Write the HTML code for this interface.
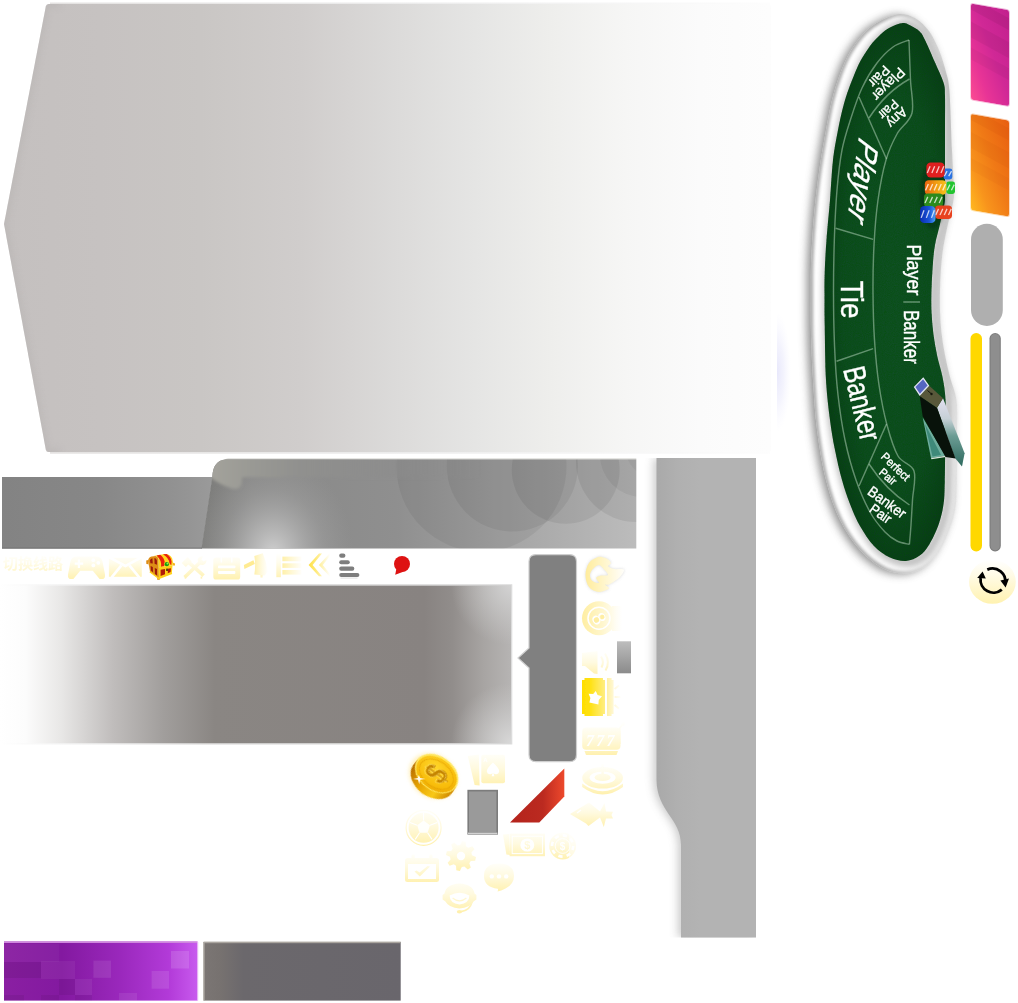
<!DOCTYPE html>
<html lang="zh"><head><meta charset="utf-8"><title>sprite</title>
<style>
html,body{margin:0;padding:0;background:#fff;}
body{width:1018px;height:1003px;overflow:hidden;font-family:"Liberation Sans","Noto Sans CJK SC",sans-serif;}
svg{display:block;position:absolute;left:0;top:0;}
text{font-family:"Liberation Sans","Noto Sans CJK SC",sans-serif;}
</style></head><body>
<svg width="1018" height="1003" viewBox="0 0 1018 1003">
<defs>
<linearGradient id="gHex" x1="0" y1="0" x2="1" y2="0">
<stop offset="0" stop-color="#c4c0bf"/><stop offset="0.125" stop-color="#c6c2c1"/><stop offset="0.256" stop-color="#c9c6c4"/><stop offset="0.386" stop-color="#d0cdcc"/>
<stop offset="0.516" stop-color="#dcdbda"/><stop offset="0.614" stop-color="#e5e5e4"/><stop offset="0.712" stop-color="#eeeeec"/><stop offset="0.81" stop-color="#f6f6f5"/>
<stop offset="0.907" stop-color="#fbfbfb"/><stop offset="1" stop-color="#fdfdfd"/></linearGradient>
<linearGradient id="gHexEdge" x1="0" y1="0" x2="1" y2="0">
<stop offset="0" stop-color="#e4e2e1"/><stop offset="0.5" stop-color="#ececec"/><stop offset="1" stop-color="#fdfdfd"/></linearGradient>
<clipPath id="cpHex"><path d="M48.5,4 H768 Q771,4 771,7 V449 Q771,452 768,452 H48.5 Q46.3,452 45.8,449.5 L4,224 L45.8,6.5 Q46.3,4 48.5,4 Z"/></clipPath>
<filter id="blurHex" x="-10%" y="-10%" width="120%" height="120%"><feGaussianBlur stdDeviation="3"/></filter>
<radialGradient id="gLav" cx="777" cy="372" r="1" gradientUnits="userSpaceOnUse" gradientTransform="translate(777,372) scale(14,60) translate(-777,-372)"><stop offset="0" stop-color="#e6e6fb" stop-opacity="0.95"/><stop offset="0.5" stop-color="#ececfc" stop-opacity="0.6"/><stop offset="1" stop-color="#f4f4ff" stop-opacity="0"/></radialGradient>
<linearGradient id="gBar" x1="0" y1="0" x2="1" y2="0">
<stop offset="0" stop-color="#838383"/><stop offset="0.45" stop-color="#878787"/><stop offset="0.8" stop-color="#919191"/><stop offset="1" stop-color="#9a9a9a"/></linearGradient>
<linearGradient id="gPan" x1="200" y1="0" x2="637" y2="0" gradientUnits="userSpaceOnUse">
<stop offset="0" stop-color="#7c7c7a"/><stop offset="0.12" stop-color="#888887"/><stop offset="0.45" stop-color="#8f8f8f"/><stop offset="0.72" stop-color="#a6a6a6"/><stop offset="1" stop-color="#bcbcbc"/></linearGradient>
<radialGradient id="gPanHi" cx="273" cy="554" r="100" gradientUnits="userSpaceOnUse" gradientTransform="translate(273,554) scale(0.8,1) translate(-273,-554)">
<stop offset="0" stop-color="#d0d0d0" stop-opacity="1"/><stop offset="0.3" stop-color="#bcbcbc" stop-opacity="0.75"/><stop offset="0.65" stop-color="#a8a8a8" stop-opacity="0.35"/><stop offset="1" stop-color="#a0a0a0" stop-opacity="0"/></radialGradient>
<linearGradient id="gPanTop" x1="212" y1="0" x2="480" y2="0" gradientUnits="userSpaceOnUse">
<stop offset="0" stop-color="#a3a29b"/><stop offset="0.15" stop-color="#999994"/><stop offset="0.33" stop-color="#90908e"/><stop offset="0.7" stop-color="#8c8c8c" stop-opacity="0.4"/><stop offset="1" stop-color="#8c8c8c" stop-opacity="0"/></linearGradient>
<clipPath id="cpPan"><path d="M226,459.5 H636.3 V548.5 H201.5 L212.3,477 Q213,460 226,459.5 Z"/></clipPath>
<filter id="blur2"><feGaussianBlur stdDeviation="1.4"/></filter>
<filter id="blur4"><feGaussianBlur stdDeviation="4"/></filter>
<filter id="blur5" x="-30%" y="-5%" width="160%" height="110%"><feGaussianBlur stdDeviation="4.5"/></filter>
<clipPath id="cpV"><rect x="630" y="458" width="126" height="479.5"/></clipPath>
<linearGradient id="gV" x1="656" y1="0" x2="700" y2="0" gradientUnits="userSpaceOnUse">
<stop offset="0" stop-color="#a9a9a9"/><stop offset="0.5" stop-color="#b0b0b0"/><stop offset="1" stop-color="#b3b3b3"/></linearGradient>
<linearGradient id="gMid" x1="0" y1="0" x2="511" y2="0" gradientUnits="userSpaceOnUse">
<stop offset="0" stop-color="#ffffff"/><stop offset="0.05" stop-color="#fcfcfc"/><stop offset="0.12" stop-color="#e8e7e6"/><stop offset="0.22" stop-color="#c0bdbc"/>
<stop offset="0.32" stop-color="#a19e9c"/><stop offset="0.42" stop-color="#8a8683"/><stop offset="0.83" stop-color="#888381"/>
<stop offset="0.885" stop-color="#918d8b"/><stop offset="0.945" stop-color="#a7a4a2"/><stop offset="1" stop-color="#b6b4b3"/></linearGradient>
<linearGradient id="gMidEdge" x1="0" y1="0" x2="511" y2="0" gradientUnits="userSpaceOnUse">
<stop offset="0" stop-color="#fff"/><stop offset="0.15" stop-color="#efefef"/><stop offset="0.4" stop-color="#d4d3d2"/><stop offset="1" stop-color="#dcdcdc"/></linearGradient>
<radialGradient id="gMidC1" cx="511" cy="585" r="60" gradientUnits="userSpaceOnUse"><stop offset="0" stop-color="#d8d8d8" stop-opacity="0.85"/><stop offset="1" stop-color="#d0d0d0" stop-opacity="0"/></radialGradient>
<radialGradient id="gMidC2" cx="511" cy="743" r="60" gradientUnits="userSpaceOnUse"><stop offset="0" stop-color="#dcdcdc" stop-opacity="0.9"/><stop offset="1" stop-color="#d0d0d0" stop-opacity="0"/></radialGradient>
<linearGradient id="gSm" x1="0" y1="0" x2="0" y2="1"><stop offset="0" stop-color="#bdbdbd"/><stop offset="1" stop-color="#8b8b8b"/></linearGradient>
<linearGradient id="gRed" x1="510" y1="0" x2="565" y2="0" gradientUnits="userSpaceOnUse"><stop offset="0" stop-color="#b4231c"/><stop offset="0.6" stop-color="#bb2a20"/><stop offset="0.85" stop-color="#dc3e28"/><stop offset="1" stop-color="#ee4a2c"/></linearGradient>
<linearGradient id="gPur" x1="0" y1="0" x2="1" y2="0">
<stop offset="0" stop-color="#8a1fa2"/><stop offset="0.3" stop-color="#8319a0"/><stop offset="0.6" stop-color="#9a28bc"/><stop offset="0.85" stop-color="#b23ad8"/><stop offset="1" stop-color="#c85aee"/></linearGradient>
<clipPath id="cpPur"><rect x="4" y="942" width="193.5" height="58.5"/></clipPath>
<linearGradient id="gGry" x1="204" y1="0" x2="401" y2="0" gradientUnits="userSpaceOnUse">
<stop offset="0" stop-color="#7b7674"/><stop offset="0.08" stop-color="#777270"/><stop offset="0.2" stop-color="#6b686c"/><stop offset="1" stop-color="#69666c"/></linearGradient>
<linearGradient id="gPink" x1="1" y1="0" x2="0" y2="1">
<stop offset="0" stop-color="#c2208e"/><stop offset="0.45" stop-color="#d02896"/><stop offset="0.75" stop-color="#e83496"/><stop offset="1" stop-color="#fb4c92"/></linearGradient>
<linearGradient id="gOr" x1="1" y1="0" x2="0" y2="1">
<stop offset="0" stop-color="#e85e10"/><stop offset="0.45" stop-color="#f07a16"/><stop offset="0.75" stop-color="#f8941c"/><stop offset="1" stop-color="#ffb820"/></linearGradient>
<clipPath id="cpCard"><rect x="0" y="0" width="38" height="96" rx="2.5"/></clipPath>
<linearGradient id="gRef" x1="0" y1="0" x2="0" y2="1"><stop offset="0" stop-color="#ffffff"/><stop offset="0.35" stop-color="#fffbe6"/><stop offset="1" stop-color="#fff2b0"/></linearGradient>
<filter id="tblShadow" x="-20%" y="-5%" width="140%" height="110%"><feGaussianBlur stdDeviation="4.5"/></filter>
<filter id="blur1"><feGaussianBlur stdDeviation="0.8"/></filter>
<filter id="blur15"><feGaussianBlur stdDeviation="1.5"/></filter>
<filter id="blur3"><feGaussianBlur stdDeviation="3"/></filter>
<radialGradient id="gFelt" cx="895" cy="292" r="1" gradientUnits="userSpaceOnUse" gradientTransform="translate(895,292) scale(75,280) translate(-895,-292)">
<stop offset="0" stop-color="#105026"/><stop offset="0.7" stop-color="#0e4b23"/><stop offset="1" stop-color="#093a1a"/></radialGradient>
<clipPath id="cpFelt"><path d="M902.8,23.0 C899.5,23.4 893.8,25.4 890.0,27.4 C886.2,29.4 883.3,31.8 880.0,34.9 C876.7,38.0 873.3,41.4 870.0,45.9 C866.7,50.4 862.8,56.5 860.0,61.8 C857.2,67.1 855.2,72.5 853.0,77.8 C850.8,83.1 848.8,88.4 847.0,93.7 C845.2,99.0 843.9,103.7 842.4,109.7 C840.9,115.8 839.6,121.6 838.0,130.0 C836.4,138.4 834.3,148.3 833.0,160.0 C831.7,171.7 831.1,186.7 830.0,200.0 C828.9,213.3 827.4,228.3 826.5,240.0 C825.6,251.7 825.1,261.3 824.8,270.0 C824.5,278.7 824.5,282.8 824.5,292.0 C824.5,301.2 824.5,310.3 824.7,325.0 C825.0,339.7 825.1,364.2 826.0,380.0 C826.9,395.8 828.5,408.3 830.0,420.0 C831.5,431.7 833.0,440.0 835.0,450.0 C837.0,460.0 839.5,471.0 842.0,480.0 C844.5,489.0 847.0,496.3 850.0,504.0 C853.0,511.7 856.0,519.0 860.0,526.0 C864.0,533.0 869.0,540.8 874.0,546.0 C879.0,551.2 884.7,555.0 890.0,557.5 C895.3,560.0 901.0,561.3 906.0,561.0 C911.0,560.7 915.8,558.4 919.7,555.6 C923.6,552.8 926.1,549.7 929.3,544.4 C932.5,539.1 936.5,530.6 938.9,523.7 C941.3,516.8 942.7,510.3 943.7,503.0 C944.7,495.7 944.5,492.2 944.8,480.0 C945.1,467.8 945.2,443.5 945.3,430.0 C945.4,416.5 946.0,407.8 945.5,399.0 C945.0,390.2 943.9,384.3 942.5,377.0 C941.1,369.7 938.5,362.3 937.0,355.0 C935.5,347.7 934.2,340.3 933.3,333.0 C932.4,325.7 931.8,318.2 931.5,311.0 C931.2,303.8 931.3,297.2 931.5,290.0 C931.7,282.8 932.1,275.3 932.6,268.0 C933.1,260.7 933.6,253.3 934.8,246.0 C936.0,238.7 938.4,231.2 940.0,224.0 C941.6,216.8 943.8,208.7 944.6,203.0 C945.4,197.3 944.9,202.2 945.0,190.0 C945.1,177.8 945.0,145.7 945.0,130.0 C945.0,114.3 945.2,103.9 945.0,96.0 C944.8,88.1 945.2,88.1 943.5,82.5 C941.8,76.9 938.0,69.4 935.0,62.5 C932.0,55.6 928.0,46.2 925.5,41.0 C923.0,35.8 922.3,34.0 919.7,31.4 C917.1,28.8 912.8,26.6 910.0,25.2 C907.2,23.8 906.1,22.6 902.8,23.0Z"/></clipPath>
<clipPath id="cpRim"><path d="M898.8,14.0 C893.0,14.5 885.6,18.0 880.0,21.0 C874.4,24.0 870.0,26.8 865.0,32.0 C860.0,37.2 854.2,45.0 850.0,52.0 C845.8,59.0 843.0,66.0 840.0,74.0 C837.0,82.0 834.3,90.7 832.0,100.0 C829.7,109.3 828.0,119.2 826.0,130.0 C824.0,140.8 821.8,153.3 820.0,165.0 C818.2,176.7 816.8,188.3 815.5,200.0 C814.2,211.7 813.2,224.2 812.5,235.0 C811.8,245.8 811.3,255.5 811.0,265.0 C810.7,274.5 810.8,280.3 810.8,292.0 C810.8,303.7 810.6,320.3 811.0,335.0 C811.4,349.7 812.0,364.2 813.0,380.0 C814.0,395.8 814.8,413.3 817.0,430.0 C819.2,446.7 822.2,465.0 826.0,480.0 C829.8,495.0 834.3,508.3 840.0,520.0 C845.7,531.7 852.7,541.8 860.0,550.0 C867.3,558.2 876.3,565.1 884.0,569.0 C891.7,572.9 899.2,573.8 906.0,573.5 C912.8,573.2 919.3,570.9 925.0,567.0 C930.7,563.1 935.7,557.0 940.0,550.0 C944.3,543.0 948.3,532.8 951.0,525.0 C953.7,517.2 955.0,512.2 956.0,503.0 C957.0,493.8 956.8,482.2 957.0,470.0 C957.2,457.8 957.1,441.7 957.0,430.0 C956.9,418.3 957.7,408.8 956.5,400.0 C955.3,391.2 951.9,384.5 950.0,377.0 C948.1,369.5 946.4,362.3 945.0,355.0 C943.6,347.7 942.3,340.3 941.5,333.0 C940.7,325.7 940.2,318.2 940.0,311.0 C939.8,303.8 939.8,297.2 940.0,290.0 C940.2,282.8 940.4,275.3 941.0,268.0 C941.6,260.7 942.3,253.3 943.5,246.0 C944.7,238.7 946.4,231.2 948.0,224.0 C949.6,216.8 952.0,208.7 953.0,203.0 C954.0,197.3 954.2,198.8 954.0,190.0 C953.8,181.2 952.8,166.3 952.0,150.0 C951.2,133.7 950.5,105.0 949.5,92.0 C948.5,79.0 947.8,79.0 946.0,72.0 C944.2,65.0 941.8,56.8 939.0,50.0 C936.2,43.2 933.0,36.3 929.0,31.0 C925.0,25.7 920.0,20.8 915.0,18.0 C910.0,15.2 904.6,13.5 898.8,14.0Z"/></clipPath>
<linearGradient id="gRimFade" x1="880" y1="0" x2="935" y2="0" gradientUnits="userSpaceOnUse"><stop offset="0" stop-color="#fff" stop-opacity="1"/><stop offset="1" stop-color="#fff" stop-opacity="0.3"/></linearGradient><mask id="mRim"><rect x="780" y="0" width="200" height="600" fill="url(#gRimFade)"/></mask>
<filter id="feltNoise" x="0" y="0" width="100%" height="100%"><feTurbulence type="fractalNoise" baseFrequency="0.9" numOctaves="2" seed="3" result="n"/><feColorMatrix type="matrix" values="0 0 0 0 0  0 0 0 0 0.08  0 0 0 0 0  0.9 0.9 0.9 0 -0.95"/></filter>
<linearGradient id="gOy" x1="0" y1="0" x2="1" y2="0"><stop offset="0" stop-color="#e8620e"/><stop offset="0.5" stop-color="#f09a12"/><stop offset="1" stop-color="#f6c21c"/></linearGradient>
<linearGradient id="gBl" x1="0" y1="0" x2="1" y2="0"><stop offset="0" stop-color="#0a2cb0"/><stop offset="0.6" stop-color="#1a54d8"/><stop offset="1" stop-color="#4aa0f4"/></linearGradient>
<linearGradient id="gGlass" x1="0" y1="0" x2="0" y2="1"><stop offset="0" stop-color="#e2e0f0"/><stop offset="0.3" stop-color="#c6d0d6"/><stop offset="0.55" stop-color="#6c9c94"/><stop offset="1" stop-color="#2e6a5e"/></linearGradient>
<linearGradient id="pv" x1="0" y1="0" x2="0" y2="1"><stop offset="0" stop-color="#fffef6"/><stop offset="0.45" stop-color="#fff8d4"/><stop offset="1" stop-color="#ffefa6"/></linearGradient>
<linearGradient id="ph" x1="0" y1="0" x2="1" y2="0"><stop offset="0" stop-color="#ffec9c"/><stop offset="0.45" stop-color="#fff5c8"/><stop offset="1" stop-color="#fffefa"/></linearGradient>
<linearGradient id="pvU" x1="0" y1="553" x2="0" y2="580" gradientUnits="userSpaceOnUse"><stop offset="0" stop-color="#ffffff"/><stop offset="0.35" stop-color="#fffcec"/><stop offset="1" stop-color="#fff1ae"/></linearGradient>
<filter id="b05"><feGaussianBlur stdDeviation="0.45"/></filter>
<linearGradient id="pMeg" x1="254" y1="0" x2="268" y2="0" gradientUnits="userSpaceOnUse"><stop offset="0" stop-color="#fff0aa"/><stop offset="0.5" stop-color="#fff9dc"/><stop offset="1" stop-color="#ffffff"/></linearGradient>
<linearGradient id="pList" x1="282" y1="0" x2="302" y2="0" gradientUnits="userSpaceOnUse"><stop offset="0" stop-color="#fff0a8"/><stop offset="0.5" stop-color="#fff8d6"/><stop offset="1" stop-color="#fffefc"/></linearGradient>
<linearGradient id="pChev" x1="308" y1="0" x2="330" y2="0" gradientUnits="userSpaceOnUse"><stop offset="0" stop-color="#ffe042"/><stop offset="0.35" stop-color="#ffe978"/><stop offset="0.75" stop-color="#fff7cc"/><stop offset="1" stop-color="#ffffff"/></linearGradient>
<filter id="flSh" x="-20%" y="-20%" width="140%" height="140%"><feGaussianBlur stdDeviation="1.6"/></filter>
<linearGradient id="ph8" x1="582" y1="0" x2="622" y2="0" gradientUnits="userSpaceOnUse"><stop offset="0" stop-color="#ffeea2"/><stop offset="0.5" stop-color="#fff6cc"/><stop offset="0.85" stop-color="#fffdf4"/><stop offset="1" stop-color="#ffffff"/></linearGradient>
<linearGradient id="pvM" x1="0" y1="650" x2="0" y2="675" gradientUnits="userSpaceOnUse"><stop offset="0" stop-color="#fffffb"/><stop offset="0.5" stop-color="#fffae0"/><stop offset="1" stop-color="#fff0b0"/></linearGradient>
<linearGradient id="gStar" x1="582" y1="0" x2="606" y2="0" gradientUnits="userSpaceOnUse"><stop offset="0" stop-color="#ffde00"/><stop offset="0.3" stop-color="#ffe10e"/><stop offset="1" stop-color="#ffee8a"/></linearGradient>
<linearGradient id="gStar2" x1="607" y1="0" x2="622" y2="0" gradientUnits="userSpaceOnUse"><stop offset="0" stop-color="#fff0a6"/><stop offset="0.5" stop-color="#fff9dc"/><stop offset="1" stop-color="#ffffff"/></linearGradient>
<linearGradient id="pv7" x1="0" y1="724" x2="0" y2="756" gradientUnits="userSpaceOnUse"><stop offset="0" stop-color="#fffffc"/><stop offset="0.45" stop-color="#fffae0"/><stop offset="1" stop-color="#fff0ac"/></linearGradient>
<linearGradient id="pvR" x1="0" y1="765" x2="0" y2="795" gradientUnits="userSpaceOnUse"><stop offset="0" stop-color="#fffffc"/><stop offset="0.45" stop-color="#fffae0"/><stop offset="1" stop-color="#fff0ac"/></linearGradient>
<linearGradient id="pvF" x1="0" y1="800" x2="0" y2="828" gradientUnits="userSpaceOnUse"><stop offset="0" stop-color="#fffffc"/><stop offset="0.45" stop-color="#fffae0"/><stop offset="1" stop-color="#fff0ac"/></linearGradient>
<linearGradient id="pvC" x1="0" y1="752" x2="0" y2="787" gradientUnits="userSpaceOnUse"><stop offset="0" stop-color="#fffffc"/><stop offset="0.45" stop-color="#fffae0"/><stop offset="1" stop-color="#fff0ac"/></linearGradient>
<linearGradient id="pvS" x1="0" y1="808" x2="0" y2="846" gradientUnits="userSpaceOnUse"><stop offset="0" stop-color="#fffffc"/><stop offset="0.45" stop-color="#fffae0"/><stop offset="1" stop-color="#fff0ac"/></linearGradient>
<linearGradient id="pvG" x1="0" y1="840" x2="0" y2="872" gradientUnits="userSpaceOnUse"><stop offset="0" stop-color="#fffffc"/><stop offset="0.45" stop-color="#fffae0"/><stop offset="1" stop-color="#fff0ac"/></linearGradient>
<linearGradient id="pvK" x1="0" y1="853" x2="0" y2="884" gradientUnits="userSpaceOnUse"><stop offset="0" stop-color="#fffffc"/><stop offset="0.45" stop-color="#fffae0"/><stop offset="1" stop-color="#fff0ac"/></linearGradient>
<linearGradient id="pvB" x1="0" y1="830" x2="0" y2="860" gradientUnits="userSpaceOnUse"><stop offset="0" stop-color="#fffffc"/><stop offset="0.45" stop-color="#fffae0"/><stop offset="1" stop-color="#fff0ac"/></linearGradient>
<linearGradient id="pvP" x1="0" y1="832" x2="0" y2="861" gradientUnits="userSpaceOnUse"><stop offset="0" stop-color="#fffffc"/><stop offset="0.45" stop-color="#fffae0"/><stop offset="1" stop-color="#fff0ac"/></linearGradient>
<linearGradient id="pvT" x1="0" y1="862" x2="0" y2="893" gradientUnits="userSpaceOnUse"><stop offset="0" stop-color="#fffffc"/><stop offset="0.45" stop-color="#fffae0"/><stop offset="1" stop-color="#fff0ac"/></linearGradient>
<linearGradient id="pvH" x1="0" y1="878" x2="0" y2="912" gradientUnits="userSpaceOnUse"><stop offset="0" stop-color="#fffffc"/><stop offset="0.45" stop-color="#fffae0"/><stop offset="1" stop-color="#fff0ac"/></linearGradient>
<linearGradient id="gCoinEdge" x1="0" y1="0" x2="1" y2="0"><stop offset="0" stop-color="#b86e00"/><stop offset="0.35" stop-color="#e8a400"/><stop offset="0.7" stop-color="#f8c818"/><stop offset="1" stop-color="#d08a00"/></linearGradient>
<radialGradient id="gCoinFace" cx="0.4" cy="0.35" r="0.75"><stop offset="0" stop-color="#ffd62a"/><stop offset="0.7" stop-color="#f8bc0a"/><stop offset="1" stop-color="#eaa400"/></radialGradient>
<filter id="coinGlow" x="-30%" y="-30%" width="160%" height="160%"><feGaussianBlur stdDeviation="2.2"/></filter>
</defs>
<path d="M50,2.5 H770 V453.8 H50 Z" fill="url(#gHexEdge)"/>
<path d="M48.5,4 H768 Q771,4 771,7 V449 Q771,452 768,452 H48.5 Q46.3,452 45.8,449.5 L4,224 L45.8,6.5 Q46.3,4 48.5,4 Z" fill="url(#gHex)"/>
<g clip-path="url(#cpHex)"><path d="M60,4 H46 L4,224 L46,452 H60" fill="none" stroke="#b4b0af" stroke-width="5" opacity="0.55" filter="url(#blurHex)"/></g>
<rect x="777" y="310" width="16" height="124" fill="url(#gLav)"/>
<path d="M2,477 H212.8 L202,548.5 H2 Z" fill="url(#gBar)"/>
<path d="M228,458.3 H636.3 V460 H222 Z" fill="#dcdcd8"/>
<g clip-path="url(#cpPan)">
<rect x="200" y="459" width="437" height="90" fill="url(#gPan)"/>
<rect x="200" y="459" width="437" height="90" fill="url(#gPanHi)"/>
<circle cx="481.5" cy="466.7" r="85" fill="#000" fill-opacity="0.055"/>
<circle cx="512.3" cy="466" r="65.6" fill="#000" fill-opacity="0.06"/>
<circle cx="565.7" cy="469.8" r="54" fill="#000" fill-opacity="0.065"/>
<circle cx="636" cy="462" r="60" fill="#000" fill-opacity="0.065"/>
<circle cx="642" cy="455" r="42" fill="#000" fill-opacity="0.05"/>
<circle cx="652" cy="450" r="26" fill="#000" fill-opacity="0.04"/>
<path d="M200,455 H480 V477.3 H242 Q243,491 232,488.5 Q220,485 210,477 Z" fill="url(#gPanTop)" filter="url(#blur2)"/>
</g>
<g clip-path="url(#cpV)"><path d="M656.5,458 H756 V937.5 H681 V845 C681,818 657,812 656.5,780 Z" fill="#8a8a8a" opacity="0.45" filter="url(#blur5)" transform="translate(-3,0)"/></g>
<path d="M656.5,458 H756 V937.5 H681 V845 C681,818 657,812 656.5,780 Z" fill="url(#gV)"/>
<rect x="0" y="584.2" width="512.3" height="160.3" fill="url(#gMidEdge)"/>
<rect x="0" y="585.7" width="511" height="157.4" fill="url(#gMid)"/>
<rect x="440" y="585.7" width="71" height="157.4" fill="url(#gMidC1)"/>
<rect x="440" y="585.7" width="71" height="157.4" fill="url(#gMidC2)"/>
<path d="M536,554.6 H569.5 Q576.5,554.6 576.5,561.6 V754.7 Q576.5,761.7 569.5,761.7 H536 Q529,761.7 529,754.7 V668 L518,658 L529,648 V561.6 Q529,554.6 536,554.6 Z" fill="#808080" stroke="#cfcfcf" stroke-width="1.2"/>
<rect x="617" y="641.3" width="14" height="32" fill="url(#gSm)"/>
<rect x="467.4" y="789.8" width="30.6" height="44.8" fill="#7c7c7c"/>
<rect x="469" y="791.5" width="27.4" height="40.8" fill="#9a9a9a"/>
<rect x="468" y="832.6" width="29.4" height="1.4" fill="#d2d2d2"/>
<path d="M510,822.4 L539.3,822.4 L564.3,796.4 L564.3,768.6 Z" fill="url(#gRed)"/>
<rect x="4" y="941.6" width="193.5" height="59" fill="url(#gPur)"/>
<g clip-path="url(#cpPur)">
<rect x="4" y="944" width="55" height="18" fill="#fff" fill-opacity="0.03"/>
<rect x="4" y="962" width="37" height="16" fill="#000" fill-opacity="0.07"/>
<rect x="41" y="961" width="34" height="18" fill="#fff" fill-opacity="0.05"/>
<rect x="59" y="979" width="16" height="16" fill="#000" fill-opacity="0.06"/>
<rect x="75" y="979" width="17" height="16" fill="#fff" fill-opacity="0.06"/>
<rect x="93.4" y="960.6" width="17.6" height="17.2" fill="#fff" fill-opacity="0.09"/>
<rect x="151.6" y="971" width="17.4" height="17.7" fill="#fff" fill-opacity="0.1"/>
<rect x="171" y="951" width="18" height="17.5" fill="#fff" fill-opacity="0.13"/>
<rect x="119" y="993" width="18" height="8" fill="#fff" fill-opacity="0.08"/>
<rect x="4" y="995" width="20" height="6" fill="#000" fill-opacity="0.06"/>
<rect x="41" y="995" width="18" height="6" fill="#000" fill-opacity="0.05"/>
<rect x="75" y="995" width="17" height="6" fill="#000" fill-opacity="0.05"/>
</g>
<rect x="4" y="941.4" width="193.5" height="1.6" fill="#cf86de"/>
<rect x="197" y="942" width="1.2" height="58.5" fill="#e6b0f4"/>
<rect x="203.6" y="942" width="197.1" height="58.6" fill="url(#gGry)"/>
<rect x="203.6" y="941.6" width="197.1" height="1.6" fill="#aaa59f"/>
<rect x="203.3" y="942" width="1.3" height="58.6" fill="#b0aba4"/>
<g transform="translate(971,3.6) skewY(9.8)">
<rect x="-0.8" y="-0.8" width="39.6" height="97.6" rx="3" fill="url(#gPink)" opacity="0.35"/>
<g clip-path="url(#cpCard)"><rect x="0" y="0" width="38" height="96" fill="url(#gPink)"/>
<path d="M0,-6 L38,8 L38,20 L0,6 Z" fill="#000" fill-opacity="0.06"/>
<path d="M0,18 L38,32 L38,48 L0,34 Z" fill="#000" fill-opacity="0.05"/>
<path d="M0,44 L38,58 L38,70 L0,56 Z" fill="#000" fill-opacity="0.04"/>
</g></g>
<g transform="translate(971,114) skewY(9.8)">
<rect x="-0.8" y="-0.8" width="39.6" height="97.6" rx="3" fill="url(#gOr)" opacity="0.35"/>
<g clip-path="url(#cpCard)"><rect x="0" y="0" width="38" height="96" fill="url(#gOr)"/>
<path d="M0,-6 L38,8 L38,20 L0,6 Z" fill="#a02000" fill-opacity="0.06"/>
<path d="M0,18 L38,32 L38,48 L0,34 Z" fill="#a02000" fill-opacity="0.05"/>
<path d="M0,44 L38,58 L38,70 L0,56 Z" fill="#a02000" fill-opacity="0.04"/>
</g></g>
<rect x="971" y="223.8" width="31.8" height="102.1" rx="15.9" fill="#afafaf"/>
<rect x="970.5" y="333" width="11.5" height="218.4" rx="5.7" fill="#ffd800"/>
<rect x="989.5" y="333" width="11.3" height="218.4" rx="5.6" fill="#7c7c7c"/>
<rect x="990.6" y="334" width="9.1" height="216.4" rx="4.5" fill="#8e8e8e"/>
<ellipse cx="992.4" cy="581.8" rx="23.4" ry="22" fill="url(#gRef)"/>
<g fill="none" stroke="#000" stroke-width="2.8">
<path d="M987.3,569.6 A13,13 0 0 1 1005.2,584"/>
<path d="M1001.8,589.6 A13,13 0 0 1 980.6,578"/>
</g>
<path d="M1000.4,580.4 L1009,578.6 L1005.6,587.4 Z" fill="#000"/>
<path d="M977.2,578 L982.6,571.6 L985.8,578.6 Z" fill="#000"/>
<path d="M898.8,14.0 C893.0,14.5 885.6,18.0 880.0,21.0 C874.4,24.0 870.0,26.8 865.0,32.0 C860.0,37.2 854.2,45.0 850.0,52.0 C845.8,59.0 843.0,66.0 840.0,74.0 C837.0,82.0 834.3,90.7 832.0,100.0 C829.7,109.3 828.0,119.2 826.0,130.0 C824.0,140.8 821.8,153.3 820.0,165.0 C818.2,176.7 816.8,188.3 815.5,200.0 C814.2,211.7 813.2,224.2 812.5,235.0 C811.8,245.8 811.3,255.5 811.0,265.0 C810.7,274.5 810.8,280.3 810.8,292.0 C810.8,303.7 810.6,320.3 811.0,335.0 C811.4,349.7 812.0,364.2 813.0,380.0 C814.0,395.8 814.8,413.3 817.0,430.0 C819.2,446.7 822.2,465.0 826.0,480.0 C829.8,495.0 834.3,508.3 840.0,520.0 C845.7,531.7 852.7,541.8 860.0,550.0 C867.3,558.2 876.3,565.1 884.0,569.0 C891.7,572.9 899.2,573.8 906.0,573.5 C912.8,573.2 919.3,570.9 925.0,567.0 C930.7,563.1 935.7,557.0 940.0,550.0 C944.3,543.0 948.3,532.8 951.0,525.0 C953.7,517.2 955.0,512.2 956.0,503.0 C957.0,493.8 956.8,482.2 957.0,470.0 C957.2,457.8 957.1,441.7 957.0,430.0 C956.9,418.3 957.7,408.8 956.5,400.0 C955.3,391.2 951.9,384.5 950.0,377.0 C948.1,369.5 946.4,362.3 945.0,355.0 C943.6,347.7 942.3,340.3 941.5,333.0 C940.7,325.7 940.2,318.2 940.0,311.0 C939.8,303.8 939.8,297.2 940.0,290.0 C940.2,282.8 940.4,275.3 941.0,268.0 C941.6,260.7 942.3,253.3 943.5,246.0 C944.7,238.7 946.4,231.2 948.0,224.0 C949.6,216.8 952.0,208.7 953.0,203.0 C954.0,197.3 954.2,198.8 954.0,190.0 C953.8,181.2 952.8,166.3 952.0,150.0 C951.2,133.7 950.5,105.0 949.5,92.0 C948.5,79.0 947.8,79.0 946.0,72.0 C944.2,65.0 941.8,56.8 939.0,50.0 C936.2,43.2 933.0,36.3 929.0,31.0 C925.0,25.7 920.0,20.8 915.0,18.0 C910.0,15.2 904.6,13.5 898.8,14.0Z" fill="#6e6e6e" opacity="0.75" filter="url(#tblShadow)" transform="translate(-4,1)"/>
<path d="M898.8,14.0 C893.0,14.5 885.6,18.0 880.0,21.0 C874.4,24.0 870.0,26.8 865.0,32.0 C860.0,37.2 854.2,45.0 850.0,52.0 C845.8,59.0 843.0,66.0 840.0,74.0 C837.0,82.0 834.3,90.7 832.0,100.0 C829.7,109.3 828.0,119.2 826.0,130.0 C824.0,140.8 821.8,153.3 820.0,165.0 C818.2,176.7 816.8,188.3 815.5,200.0 C814.2,211.7 813.2,224.2 812.5,235.0 C811.8,245.8 811.3,255.5 811.0,265.0 C810.7,274.5 810.8,280.3 810.8,292.0 C810.8,303.7 810.6,320.3 811.0,335.0 C811.4,349.7 812.0,364.2 813.0,380.0 C814.0,395.8 814.8,413.3 817.0,430.0 C819.2,446.7 822.2,465.0 826.0,480.0 C829.8,495.0 834.3,508.3 840.0,520.0 C845.7,531.7 852.7,541.8 860.0,550.0 C867.3,558.2 876.3,565.1 884.0,569.0 C891.7,572.9 899.2,573.8 906.0,573.5 C912.8,573.2 919.3,570.9 925.0,567.0 C930.7,563.1 935.7,557.0 940.0,550.0 C944.3,543.0 948.3,532.8 951.0,525.0 C953.7,517.2 955.0,512.2 956.0,503.0 C957.0,493.8 956.8,482.2 957.0,470.0 C957.2,457.8 957.1,441.7 957.0,430.0 C956.9,418.3 957.7,408.8 956.5,400.0 C955.3,391.2 951.9,384.5 950.0,377.0 C948.1,369.5 946.4,362.3 945.0,355.0 C943.6,347.7 942.3,340.3 941.5,333.0 C940.7,325.7 940.2,318.2 940.0,311.0 C939.8,303.8 939.8,297.2 940.0,290.0 C940.2,282.8 940.4,275.3 941.0,268.0 C941.6,260.7 942.3,253.3 943.5,246.0 C944.7,238.7 946.4,231.2 948.0,224.0 C949.6,216.8 952.0,208.7 953.0,203.0 C954.0,197.3 954.2,198.8 954.0,190.0 C953.8,181.2 952.8,166.3 952.0,150.0 C951.2,133.7 950.5,105.0 949.5,92.0 C948.5,79.0 947.8,79.0 946.0,72.0 C944.2,65.0 941.8,56.8 939.0,50.0 C936.2,43.2 933.0,36.3 929.0,31.0 C925.0,25.7 920.0,20.8 915.0,18.0 C910.0,15.2 904.6,13.5 898.8,14.0Z" fill="#ffffff"/>
<g clip-path="url(#cpRim)"><g mask="url(#mRim)"><path d="M898.8,14.0 C893.0,14.5 885.6,18.0 880.0,21.0 C874.4,24.0 870.0,26.8 865.0,32.0 C860.0,37.2 854.2,45.0 850.0,52.0 C845.8,59.0 843.0,66.0 840.0,74.0 C837.0,82.0 834.3,90.7 832.0,100.0 C829.7,109.3 828.0,119.2 826.0,130.0 C824.0,140.8 821.8,153.3 820.0,165.0 C818.2,176.7 816.8,188.3 815.5,200.0 C814.2,211.7 813.2,224.2 812.5,235.0 C811.8,245.8 811.3,255.5 811.0,265.0 C810.7,274.5 810.8,280.3 810.8,292.0 C810.8,303.7 810.6,320.3 811.0,335.0 C811.4,349.7 812.0,364.2 813.0,380.0 C814.0,395.8 814.8,413.3 817.0,430.0 C819.2,446.7 822.2,465.0 826.0,480.0 C829.8,495.0 834.3,508.3 840.0,520.0 C845.7,531.7 852.7,541.8 860.0,550.0 C867.3,558.2 876.3,565.1 884.0,569.0 C891.7,572.9 899.2,573.8 906.0,573.5 C912.8,573.2 919.3,570.9 925.0,567.0 C930.7,563.1 935.7,557.0 940.0,550.0 C944.3,543.0 948.3,532.8 951.0,525.0 C953.7,517.2 955.0,512.2 956.0,503.0 C957.0,493.8 956.8,482.2 957.0,470.0 C957.2,457.8 957.1,441.7 957.0,430.0 C956.9,418.3 957.7,408.8 956.5,400.0 C955.3,391.2 951.9,384.5 950.0,377.0 C948.1,369.5 946.4,362.3 945.0,355.0 C943.6,347.7 942.3,340.3 941.5,333.0 C940.7,325.7 940.2,318.2 940.0,311.0 C939.8,303.8 939.8,297.2 940.0,290.0 C940.2,282.8 940.4,275.3 941.0,268.0 C941.6,260.7 942.3,253.3 943.5,246.0 C944.7,238.7 946.4,231.2 948.0,224.0 C949.6,216.8 952.0,208.7 953.0,203.0 C954.0,197.3 954.2,198.8 954.0,190.0 C953.8,181.2 952.8,166.3 952.0,150.0 C951.2,133.7 950.5,105.0 949.5,92.0 C948.5,79.0 947.8,79.0 946.0,72.0 C944.2,65.0 941.8,56.8 939.0,50.0 C936.2,43.2 933.0,36.3 929.0,31.0 C925.0,25.7 920.0,20.8 915.0,18.0 C910.0,15.2 904.6,13.5 898.8,14.0Z" fill="none" stroke="#8c8c8c" stroke-width="5" opacity="0.7" filter="url(#blur15)"/></g></g>
<g clip-path="url(#cpRim)">
<path d="M902.8,23.0 C899.5,23.4 893.8,25.4 890.0,27.4 C886.2,29.4 883.3,31.8 880.0,34.9 C876.7,38.0 873.3,41.4 870.0,45.9 C866.7,50.4 862.8,56.5 860.0,61.8 C857.2,67.1 855.2,72.5 853.0,77.8 C850.8,83.1 848.8,88.4 847.0,93.7 C845.2,99.0 843.9,103.7 842.4,109.7 C840.9,115.8 839.6,121.6 838.0,130.0 C836.4,138.4 834.3,148.3 833.0,160.0 C831.7,171.7 831.1,186.7 830.0,200.0 C828.9,213.3 827.4,228.3 826.5,240.0 C825.6,251.7 825.1,261.3 824.8,270.0 C824.5,278.7 824.5,282.8 824.5,292.0 C824.5,301.2 824.5,310.3 824.7,325.0 C825.0,339.7 825.1,364.2 826.0,380.0 C826.9,395.8 828.5,408.3 830.0,420.0 C831.5,431.7 833.0,440.0 835.0,450.0 C837.0,460.0 839.5,471.0 842.0,480.0 C844.5,489.0 847.0,496.3 850.0,504.0 C853.0,511.7 856.0,519.0 860.0,526.0 C864.0,533.0 869.0,540.8 874.0,546.0 C879.0,551.2 884.7,555.0 890.0,557.5 C895.3,560.0 901.0,561.3 906.0,561.0 C911.0,560.7 915.8,558.4 919.7,555.6 C923.6,552.8 926.1,549.7 929.3,544.4 C932.5,539.1 936.5,530.6 938.9,523.7 C941.3,516.8 942.7,510.3 943.7,503.0 C944.7,495.7 944.5,492.2 944.8,480.0 C945.1,467.8 945.2,443.5 945.3,430.0 C945.4,416.5 946.0,407.8 945.5,399.0 C945.0,390.2 943.9,384.3 942.5,377.0 C941.1,369.7 938.5,362.3 937.0,355.0 C935.5,347.7 934.2,340.3 933.3,333.0 C932.4,325.7 931.8,318.2 931.5,311.0 C931.2,303.8 931.3,297.2 931.5,290.0 C931.7,282.8 932.1,275.3 932.6,268.0 C933.1,260.7 933.6,253.3 934.8,246.0 C936.0,238.7 938.4,231.2 940.0,224.0 C941.6,216.8 943.8,208.7 944.6,203.0 C945.4,197.3 944.9,202.2 945.0,190.0 C945.1,177.8 945.0,145.7 945.0,130.0 C945.0,114.3 945.2,103.9 945.0,96.0 C944.8,88.1 945.2,88.1 943.5,82.5 C941.8,76.9 938.0,69.4 935.0,62.5 C932.0,55.6 928.0,46.2 925.5,41.0 C923.0,35.8 922.3,34.0 919.7,31.4 C917.1,28.8 912.8,26.6 910.0,25.2 C907.2,23.8 906.1,22.6 902.8,23.0Z" fill="none" stroke="#8e8e8e" stroke-width="10" opacity="0.55" filter="url(#blur3)" transform="translate(3,1)"/>
</g>
<path d="M902.8,23.0 C899.5,23.4 893.8,25.4 890.0,27.4 C886.2,29.4 883.3,31.8 880.0,34.9 C876.7,38.0 873.3,41.4 870.0,45.9 C866.7,50.4 862.8,56.5 860.0,61.8 C857.2,67.1 855.2,72.5 853.0,77.8 C850.8,83.1 848.8,88.4 847.0,93.7 C845.2,99.0 843.9,103.7 842.4,109.7 C840.9,115.8 839.6,121.6 838.0,130.0 C836.4,138.4 834.3,148.3 833.0,160.0 C831.7,171.7 831.1,186.7 830.0,200.0 C828.9,213.3 827.4,228.3 826.5,240.0 C825.6,251.7 825.1,261.3 824.8,270.0 C824.5,278.7 824.5,282.8 824.5,292.0 C824.5,301.2 824.5,310.3 824.7,325.0 C825.0,339.7 825.1,364.2 826.0,380.0 C826.9,395.8 828.5,408.3 830.0,420.0 C831.5,431.7 833.0,440.0 835.0,450.0 C837.0,460.0 839.5,471.0 842.0,480.0 C844.5,489.0 847.0,496.3 850.0,504.0 C853.0,511.7 856.0,519.0 860.0,526.0 C864.0,533.0 869.0,540.8 874.0,546.0 C879.0,551.2 884.7,555.0 890.0,557.5 C895.3,560.0 901.0,561.3 906.0,561.0 C911.0,560.7 915.8,558.4 919.7,555.6 C923.6,552.8 926.1,549.7 929.3,544.4 C932.5,539.1 936.5,530.6 938.9,523.7 C941.3,516.8 942.7,510.3 943.7,503.0 C944.7,495.7 944.5,492.2 944.8,480.0 C945.1,467.8 945.2,443.5 945.3,430.0 C945.4,416.5 946.0,407.8 945.5,399.0 C945.0,390.2 943.9,384.3 942.5,377.0 C941.1,369.7 938.5,362.3 937.0,355.0 C935.5,347.7 934.2,340.3 933.3,333.0 C932.4,325.7 931.8,318.2 931.5,311.0 C931.2,303.8 931.3,297.2 931.5,290.0 C931.7,282.8 932.1,275.3 932.6,268.0 C933.1,260.7 933.6,253.3 934.8,246.0 C936.0,238.7 938.4,231.2 940.0,224.0 C941.6,216.8 943.8,208.7 944.6,203.0 C945.4,197.3 944.9,202.2 945.0,190.0 C945.1,177.8 945.0,145.7 945.0,130.0 C945.0,114.3 945.2,103.9 945.0,96.0 C944.8,88.1 945.2,88.1 943.5,82.5 C941.8,76.9 938.0,69.4 935.0,62.5 C932.0,55.6 928.0,46.2 925.5,41.0 C923.0,35.8 922.3,34.0 919.7,31.4 C917.1,28.8 912.8,26.6 910.0,25.2 C907.2,23.8 906.1,22.6 902.8,23.0Z" fill="url(#gFelt)"/>
<g clip-path="url(#cpFelt)"><rect x="820" y="20" width="130" height="545" filter="url(#feltNoise)" opacity="0.5"/></g>
<g clip-path="url(#cpFelt)" fill="none" stroke="#cfe8d2" stroke-opacity="0.45" stroke-width="1.45">
<path d="M909.0,40.0 C906.3,41.2 898.3,43.2 893.0,47.0 C887.7,50.8 882.2,56.2 877.0,63.0 C871.8,69.8 866.3,78.8 862.0,88.0 C857.7,97.2 854.3,107.7 851.0,118.0 C847.7,128.3 844.3,138.0 842.0,150.0 C839.7,162.0 838.2,175.8 837.0,190.0 C835.8,204.2 835.1,218.0 834.5,235.0 C833.9,252.0 833.5,273.7 833.5,292.0 C833.5,310.3 833.8,327.8 834.5,345.0 C835.2,362.2 836.2,379.2 838.0,395.0 C839.8,410.8 842.0,425.8 845.0,440.0 C848.0,454.2 851.8,468.0 856.0,480.0 C860.2,492.0 865.2,503.3 870.0,512.0 C874.8,520.7 880.5,527.2 885.0,532.0 C889.5,536.8 892.9,538.9 897.0,541.0 C901.1,543.1 907.3,543.8 909.4,544.4"/>
<path d="M909.0,40.0 C909.2,46.7 910.0,67.8 910.5,80.0 C911.0,92.2 914.2,104.0 912.0,113.0 C909.8,122.0 901.3,126.2 897.0,134.0 C892.7,141.8 889.2,149.0 886.0,160.0 C882.8,171.0 880.0,185.8 878.0,200.0 C876.0,214.2 874.8,229.7 874.0,245.0 C873.2,260.3 872.9,276.2 873.0,292.0 C873.1,307.8 873.5,324.5 874.5,340.0 C875.5,355.5 876.9,370.8 879.0,385.0 C881.1,399.2 883.8,413.2 887.0,425.0 C890.2,436.8 893.5,448.3 898.0,456.0 C902.5,463.7 911.6,463.7 914.0,471.0 C916.4,478.3 913.0,491.0 912.5,500.0 C912.0,509.0 911.5,517.6 911.0,525.0 C910.5,532.4 909.7,541.2 909.4,544.4"/>
<path d="M859,97 L886.5,159"/>
<path d="M869,118 Q886,92 909.5,79"/>
<path d="M835.7,228.2 L873.1,239.4"/>
<path d="M836.5,361.3 L873.1,348.6"/>
<path d="M859,486 L886.5,424"/>
<path d="M869,464 Q886,490 909.5,505"/>
<path d="M903.3,302 H920"/>
</g>
<g style="filter:blur(0.3px)" stroke="#fff" stroke-width="0.35">
<text transform="matrix(-0.1317,0.9367,-0.9100,-0.6933,859.20,135.40)" font-size="30" fill="#fff" >Player</text>
<text transform="matrix(0.0000,1.0000,-1.1000,0.0000,841.00,280.70)" font-size="28" fill="#fff" >Tie</text>
<text transform="matrix(0.2192,0.8923,-1.1538,0.2808,842.90,369.30)" font-size="26" fill="#fff" >Banker</text>
<text transform="matrix(0.0000,1.0000,-1.0800,0.0000,906.70,244.60)" font-size="18" fill="#fff" >Player</text>
<text transform="matrix(0.0000,1.0000,-1.3000,0.0000,904.20,310.00)" font-size="17" fill="#fff" >Banker</text>
<text transform="matrix(-0.7172,0.7172,-0.7172,-0.7172,899.30,66.40)" font-size="14" fill="#fff" >Player</text>
<text transform="matrix(-0.6748,0.6988,-0.6988,-0.6748,884.20,64.40)" font-size="14" fill="#fff" >Pair</text>
<text transform="matrix(-0.7314,0.6820,-0.7161,-0.7679,902.00,106.60)" font-size="13" fill="#fff" >Any</text>
<text transform="matrix(-0.7089,0.6610,-0.6941,-0.7443,893.60,98.40)" font-size="13" fill="#fff" >Pair</text>
<text transform="matrix(0.7218,0.6921,-0.7475,0.7795,880.20,457.60)" font-size="11" fill="#fff" >Perfect</text>
<text transform="matrix(0.7382,0.6194,-0.6690,0.7972,878.20,473.60)" font-size="11" fill="#fff" >Pair</text>
<text transform="matrix(0.7917,0.5752,-0.6212,0.8550,866.60,493.60)" font-size="14" fill="#fff" >Banker</text>
<text transform="matrix(0.8192,0.5736,-0.6195,0.8847,868.60,511.00)" font-size="13" fill="#fff" >Pair</text>
</g>
<ellipse cx="933" cy="195" rx="13" ry="34" fill="#04200c" opacity="0.35" filter="url(#blur15)"/>
<g filter="url(#blur1)" style="filter:blur(0.5px)">
<rect x="943.5" y="168.4" width="8.8" height="11.1" rx="2.464" fill="#2a72e2"/>
<path d="M944.3,176.17 L947.1,171.175" stroke="#fff" stroke-opacity="0.75" stroke-width="1.3"/>
<path d="M948.7,176.17 L951.5,171.175" stroke="#fff" stroke-opacity="0.75" stroke-width="1.3"/>
<rect x="926.4" y="162.4" width="18.3" height="15.1" rx="4.228" fill="#df1f1f"/>
<path d="M927.288,172.97 L930.087,166.175" stroke="#fff" stroke-opacity="0.75" stroke-width="1.3"/>
<path d="M931.863,172.97 L934.663,166.175" stroke="#fff" stroke-opacity="0.75" stroke-width="1.3"/>
<path d="M936.438,172.97 L939.237,166.175" stroke="#fff" stroke-opacity="0.75" stroke-width="1.3"/>
<path d="M941.013,172.97 L943.812,166.175" stroke="#fff" stroke-opacity="0.75" stroke-width="1.3"/>
<rect x="946.3" y="181.5" width="8.7" height="12.4" rx="2.436" fill="#22c430"/>
<path d="M947.075,190.18 L949.875,184.6" stroke="#fff" stroke-opacity="0.75" stroke-width="1.3"/>
<path d="M951.425,190.18 L954.225,184.6" stroke="#fff" stroke-opacity="0.75" stroke-width="1.3"/>
<rect x="924.8" y="180.3" width="21.5" height="14.4" rx="4.032" fill="url(#gOy)"/>
<path d="M925.55,190.38 L928.35,183.9" stroke="#fff" stroke-opacity="0.75" stroke-width="1.3"/>
<path d="M929.85,190.38 L932.65,183.9" stroke="#fff" stroke-opacity="0.75" stroke-width="1.3"/>
<path d="M934.15,190.38 L936.95,183.9" stroke="#fff" stroke-opacity="0.75" stroke-width="1.3"/>
<path d="M938.45,190.38 L941.25,183.9" stroke="#fff" stroke-opacity="0.75" stroke-width="1.3"/>
<path d="M942.75,190.38 L945.55,183.9" stroke="#fff" stroke-opacity="0.75" stroke-width="1.3"/>
<rect x="924" y="193.5" width="19" height="13.5" rx="3.78" fill="#2c8a1e"/>
<path d="M924.975,202.95 L927.775,196.875" stroke="#fff" stroke-opacity="0.75" stroke-width="1.3"/>
<path d="M929.725,202.95 L932.525,196.875" stroke="#fff" stroke-opacity="0.75" stroke-width="1.3"/>
<path d="M934.475,202.95 L937.275,196.875" stroke="#fff" stroke-opacity="0.75" stroke-width="1.3"/>
<path d="M939.225,202.95 L942.025,196.875" stroke="#fff" stroke-opacity="0.75" stroke-width="1.3"/>
<rect x="935" y="205.5" width="17" height="13.5" rx="3.78" fill="#e8421e"/>
<path d="M935.725,214.95 L938.525,208.875" stroke="#fff" stroke-opacity="0.75" stroke-width="1.3"/>
<path d="M939.975,214.95 L942.775,208.875" stroke="#fff" stroke-opacity="0.75" stroke-width="1.3"/>
<path d="M944.225,214.95 L947.025,208.875" stroke="#fff" stroke-opacity="0.75" stroke-width="1.3"/>
<path d="M948.475,214.95 L951.275,208.875" stroke="#fff" stroke-opacity="0.75" stroke-width="1.3"/>
<rect x="920" y="205.9" width="15.5" height="17.1" rx="4.34" fill="url(#gBl)"/>
<path d="M921.183,217.87 L923.983,210.175" stroke="#fff" stroke-opacity="0.75" stroke-width="1.3"/>
<path d="M926.35,217.87 L929.15,210.175" stroke="#fff" stroke-opacity="0.75" stroke-width="1.3"/>
<path d="M931.517,217.87 L934.317,210.175" stroke="#fff" stroke-opacity="0.75" stroke-width="1.3"/>
</g>
<g style="filter:blur(0.4px)">
<path d="M937,407.8 L943,398.3 L964.6,453.3 L962,466.5 L955,458 Z" fill="url(#gGlass)"/>
<path d="M922.7,417.4 L945.5,455.7 L931,458 Z" fill="#6fae9e"/>
<path d="M925,424 L941,455 L932.5,456.5 Z" fill="#3f8a7a"/>
<path d="M931,458 L945.5,455.7 L946,457 L931.5,459.3 Z" fill="#d8e4dc"/>
<path d="M919.7,395.9 L937,407.8 L955.5,458.5 L945.5,456.9 L922.7,416.2 Z" fill="#08120a"/>
<path d="M919.7,395.9 L929.3,385.7 L943,398.3 L937,407.8 Z" fill="#58583a"/>
<path d="M913.8,386.9 L923.3,377.3 L929.3,385.7 L919.7,395.9 Z" fill="#e4e6f4"/>
<path d="M915.4,387 L923.1,379.2 L927.6,385.6 L919.9,393.8 Z" fill="#5566c2"/>
<circle cx="931.5" cy="394" r="1.2" fill="#15150c"/><path d="M927.5,390.5 L931,393.5" stroke="#15150c" stroke-width="1"/>
</g>
<text x="3" y="569" font-size="15" font-weight="bold" fill="url(#pvU)" style="font-family:'Liberation Sans','Noto Sans CJK SC',sans-serif" filter="url(#b05)">切换线路</text>
<g filter="url(#b05)">
<path d="M76,556.6 Q71.6,556.8 70.4,562 L68,574.5 Q67.6,578.8 70.4,579 H73.4 L80.2,570.8 H92.8 L99.6,579 H102.6 Q105.4,578.8 105,574.5 L102.6,562 Q101.4,556.8 97,556.6 Z" fill="url(#pvU)"/>
<path d="M77.8,559.4 h2.3 v3.1 h3.1 v2.3 h-3.1 v3.1 h-2.3 v-3.1 h-3.1 v-2.3 h3.1 Z" fill="#fff"/>
<circle cx="93.3" cy="560.2" r="1.9" fill="#fff"/><circle cx="98.3" cy="562.8" r="1.9" fill="#fff"/><circle cx="93.3" cy="565.4" r="1.9" fill="#fff"/>
<path d="M108.9,557.7 H141.8 V576.7 H108.9 Z" fill="url(#pvU)"/>
<path d="M108.9,557.2 L125.4,566 L141.8,557.2" fill="none" stroke="#fff" stroke-width="2.6"/>
<path d="M111.6,577.4 L121.4,565.4 M139.2,577.4 L129.4,565.4" fill="none" stroke="#fff" stroke-width="2.6"/>
<g stroke="url(#pvU)" stroke-width="3.6" stroke-linecap="butt" fill="none"><path d="M188,561.6 L203.6,575.6"/><path d="M201.5,561 L184.6,577.2"/></g>
<path d="M181.7,563 L187.6,557 L191.6,561.2 L185.8,567 Z" fill="url(#pvU)"/>
<path d="M197.6,559.4 Q199,556 203,556.4 L201.4,559.4 L203.6,561.6 L206.4,560 Q206.6,564 203,565 Q200,565.4 198.6,563 Z" fill="url(#pvU)"/>
<rect x="184.6" y="576.6" width="1.6" height="2" fill="url(#pvU)"/><rect x="200.6" y="576.6" width="1.6" height="2" fill="url(#pvU)"/>
<path d="M216,557.6 H237.6 Q240.2,557.6 240.2,560.2 V576.4 Q240.2,579.6 237.4,579.6 H216.2 Q213.3,579.6 213.3,576.4 V560.2 Q213.3,557.6 216,557.6 Z" fill="url(#pvU)"/>
<rect x="218" y="565.5" width="17.4" height="2.8" rx="0.8" fill="#fff"/><rect x="218" y="571.1" width="17.4" height="2.8" rx="0.8" fill="#fff"/>
<rect x="220.6" y="556.2" width="1.5" height="6.4" rx="0.7" fill="#fff"/><rect x="231" y="556.2" width="1.5" height="6.4" rx="0.7" fill="#fff"/>
<path d="M243.9,565 L253.4,560.3 L254.8,564 L244.4,569 Z" fill="#ffeb92"/>
<path d="M254.3,556 L262.8,553.2 Q266.4,562 268,571.6 L264.7,575.4 L254.3,574.4 Q256,565 254.3,556 Z" fill="url(#pMeg)"/>
<rect x="260.4" y="575" width="2.2" height="2.6" fill="#fff6cc"/>
<rect x="276.3" y="553.6" width="4.6" height="23.6" fill="url(#pvU)"/>
<rect x="282.4" y="556.6" width="19" height="4.6" fill="url(#pList)"/>
<rect x="282.4" y="563.3" width="19" height="4.6" fill="url(#pList)"/>
<rect x="282.4" y="570" width="19" height="4.6" fill="url(#pList)"/>
<path d="M319,553.5 L322,553.5 L312.6,565 L322,576.2 L319,576.2 L308.6,565 Z" fill="url(#pChev)"/>
<path d="M329.5,553.5 L332,553.5 L322.8,565 L332,576.2 L329.5,576.2 L318.9,565 Z" fill="url(#pChev)"/>
</g>
<rect x="2" y="547.6" width="200" height="1.1" fill="#6e6e6e" opacity="0.8"/>
<rect x="339.2" y="553.5" width="6.2" height="4.2" rx="2" fill="#7e7e7e"/>
<rect x="339.2" y="560.3" width="10.6" height="4" rx="2" fill="#7e7e7e"/>
<rect x="339.2" y="566.6" width="15.1" height="4.1" rx="2" fill="#7e7e7e"/>
<rect x="339.2" y="573" width="20.2" height="4" rx="2" fill="#7e7e7e"/>
<rect x="340.5" y="577.6" width="17" height="0.9" fill="#dcdcdc"/>
<circle cx="402" cy="564" r="8" fill="#de1212"/><path d="M396.2,569.5 L395.2,574.8 L404,571.4 Z" fill="#de1212"/>
<g style="filter:blur(0.45px)">
<path d="M146.2,560.5 L148.2,560 L148.4,564.2 L146.4,564 Z" fill="#dc8c14"/>
<path d="M172.6,562.6 L175,563.4 L175,565.4 L172.6,565.6 Z" fill="#f4b41e"/>
<rect x="157.2" y="577.6" width="2.6" height="2.2" fill="#e09818"/>
<path d="M148,561 Q148.4,557.4 151.5,556.6 L155.5,556 Q158.4,556.6 158.6,559.5 L158.9,578 L150.2,572.2 Z" fill="#de8e16"/>
<path d="M150,560.2 Q150.6,558.6 152.4,558.2 L152.8,563.6 L150.4,563.2 Z M154.4,558 Q156.6,558.4 156.9,560.6 L157,564.8 L154.6,563.8 Z M150.6,566 L152.8,567 L153,572.2 L151,570.6 Z M154.8,568 L157,569 L157,575.4 L155,574 Z" fill="#9c1a0c"/>
<path d="M153.6,556 L164.6,553.9 Q170.6,553.8 172.2,558.6 L173,562.4 L172.5,565.2 L158.8,567.2 L158.6,559.5 Q158.4,556.6 155.5,556 Z" fill="#ffd61e"/>
<path d="M156.6,555.5 L160.2,554.8 Q164.6,558.4 164.8,563 L164.4,566.3 L161,566.8 Q162,560.4 156.6,555.5 Z" fill="#e8220e"/>
<path d="M163,554.3 L166.6,553.9 Q171,556.6 171.6,561.6 L171.2,565.3 L169.4,563.2 Q169,558 163,554.3 Z" fill="#e8220e"/>
<path d="M158.8,567.2 L172.5,565.2 L171.8,573.6 L158.9,578.6 Z" fill="#ffcf18"/>
<path d="M160.6,569.8 L165,569 L165,574.3 L160.6,576.1 Z M167.8,568.8 L171,568.2 L170.6,572 L167.8,573.2 Z" fill="#b01a08"/>
<path d="M149.8,571.8 L158.8,578.4 L172,573.4" fill="none" stroke="#ffd21a" stroke-width="1.3"/>
<circle cx="166.8" cy="564.2" r="2.6" fill="#f6d21e"/><circle cx="166.8" cy="564.2" r="2.1" fill="#149a10"/><circle cx="167.4" cy="563.5" r="0.9" fill="#8cf250"/>
<rect x="166.1" y="568.6" width="1.9" height="2.4" fill="#5a4208"/>
</g>
<g filter="url(#b05)">
<path d="M598.0,557.0 C600.5,556.1 602.2,557.1 604.0,557.6 C605.8,558.1 607.8,559.0 608.9,560.0 C610.0,561.0 611.0,562.4 610.9,563.4 C610.8,564.4 607.7,565.3 608.2,566.2 C608.7,567.1 611.4,568.4 614.0,569.0 C616.6,569.6 623.0,568.2 623.9,569.6 C624.8,571.0 621.9,575.1 619.5,577.5 C617.1,579.9 611.9,583.0 609.5,584.2 C607.1,585.4 605.1,583.9 605.0,584.6 C604.9,585.3 609.9,587.4 608.9,588.6 C607.9,589.8 602.2,592.2 598.9,591.9 C595.6,591.6 591.2,589.7 589.0,586.9 C586.8,584.1 585.5,578.9 585.5,574.9 C585.5,570.9 586.9,565.9 589.0,562.9 C591.1,559.9 595.5,557.9 598.0,557.0Z M598.9,564.9 C596.8,564.9 593.5,568.1 592.0,569.9 C590.5,571.7 589.9,574.1 590.0,575.9 C590.1,577.7 590.9,579.7 592.4,580.9 C593.9,582.1 598.3,583.4 598.9,582.9 C599.5,582.4 595.9,579.2 596.2,578.0 C596.5,576.8 599.0,576.1 600.9,575.6 C602.8,575.1 607.3,575.8 607.9,574.9 C608.5,574.0 606.1,571.7 604.6,570.0 C603.1,568.3 601.0,564.9 598.9,564.9Z" fill="#9a9a9a" opacity="0.35" fill-rule="evenodd" filter="url(#flSh)"/>
<path d="M598.0,557.0 C600.5,556.1 602.2,557.1 604.0,557.6 C605.8,558.1 607.8,559.0 608.9,560.0 C610.0,561.0 611.0,562.4 610.9,563.4 C610.8,564.4 607.7,565.3 608.2,566.2 C608.7,567.1 611.4,568.4 614.0,569.0 C616.6,569.6 623.0,568.2 623.9,569.6 C624.8,571.0 621.9,575.1 619.5,577.5 C617.1,579.9 611.9,583.0 609.5,584.2 C607.1,585.4 605.1,583.9 605.0,584.6 C604.9,585.3 609.9,587.4 608.9,588.6 C607.9,589.8 602.2,592.2 598.9,591.9 C595.6,591.6 591.2,589.7 589.0,586.9 C586.8,584.1 585.5,578.9 585.5,574.9 C585.5,570.9 586.9,565.9 589.0,562.9 C591.1,559.9 595.5,557.9 598.0,557.0Z M598.9,564.9 C596.8,564.9 593.5,568.1 592.0,569.9 C590.5,571.7 589.9,574.1 590.0,575.9 C590.1,577.7 590.9,579.7 592.4,580.9 C593.9,582.1 598.3,583.4 598.9,582.9 C599.5,582.4 595.9,579.2 596.2,578.0 C596.5,576.8 599.0,576.1 600.9,575.6 C602.8,575.1 607.3,575.8 607.9,574.9 C608.5,574.0 606.1,571.7 604.6,570.0 C603.1,568.3 601.0,564.9 598.9,564.9Z" fill="url(#ph)" fill-rule="evenodd"/>
<circle cx="599" cy="618.3" r="17" fill="url(#ph8)"/>
<rect x="612" y="606" width="11" height="25" fill="url(#ph8)"/>
<circle cx="599" cy="618.3" r="11" fill="none" stroke="#fff" stroke-width="1.5"/>
<text transform="translate(599.2,618.6) rotate(62)" x="0" y="6.7" font-size="19" text-anchor="middle" fill="#fff">8</text>
<g transform="translate(599.2,618.6) rotate(62)" fill="url(#ph8)"><circle cx="0" cy="-3.6" r="2.1"/><circle cx="0" cy="3.1" r="2.6"/></g>
<path d="M582,653 L597.5,651 V674 L594,673.6 L585,666 H582 Z" fill="url(#pvM)"/>
<path d="M601,656.5 Q604.5,661.5 601.5,667.5" stroke="url(#pvM)" stroke-width="2" fill="none"/><path d="M605,653.5 Q610.5,662 605.5,670.5" stroke="url(#pvM)" stroke-width="2" fill="none"/>
<path d="M584.5,678 H603 V680 H605 V714 H603 V716 H584.5 V714 H582 V680 H584.5 Z" fill="url(#gStar)"/>
<path d="M595.8,691 L597.6,695 L602,696.3 L598.8,700 L598.4,704.6 L594,703.4 L589.4,702.6 L590.4,698 L588.6,693.8 L593.2,694 Z" fill="#fff"/>
<path d="M607,678 H611.6 V680 H613.6 V714 H611.6 V716 H607 Z" fill="url(#gStar2)"/>
<path d="M614.6,689 L619,685.5 M614.6,697 L620.5,697 M614.6,705 L619,708.5" stroke="url(#gStar2)" stroke-width="1.8"/>
<rect x="582.2" y="727.6" width="38.3" height="22.2" rx="4" fill="url(#pv7)"/>
<path d="M584.5,751 H618 L616.5,755 H586 Z" fill="url(#pv7)"/>
<path d="M619.8,744 V728 L623,724" stroke="url(#pv7)" stroke-width="1.6" fill="none"/><circle cx="623.2" cy="724" r="1.8" fill="url(#pv7)"/>
<text x="601.3" y="745.6" font-size="16" font-weight="bold" font-style="italic" text-anchor="middle" fill="#fff" letter-spacing="2.2" style="font-family:'Liberation Serif',serif">777</text>
<ellipse cx="602.6" cy="777.8" rx="20.4" ry="10.8" fill="url(#pvR)"/>
<ellipse cx="602.6" cy="777.6" rx="13" ry="6.2" fill="#fff"/>
<ellipse cx="602.6" cy="777.4" rx="8" ry="3.6" fill="url(#pvR)"/>
<rect x="601.4" y="764" width="2.4" height="12" fill="url(#pvR)"/>
<path d="M582.2,783.5 Q602.6,799 623,783.5 V787 Q602.6,802 582.2,787 Z" fill="url(#pvR)"/>
<path d="M570,814 L589,802.5 L600,811.5 L604.5,803 L606,811.5 L613,811.8 L611.5,815 L613,818.5 L606,818.5 L603.8,827 L600,817.5 L588.5,826 L586,823.5 Z" fill="url(#pvF)"/>
<path d="M577,813 L581,810" stroke="#fff" stroke-width="1.2"/>
</g>
<g filter="url(#b05)">
<path d="M467.8,756 L478.8,754.6 L479.6,785.5 L474.6,785 Z" fill="url(#pvC)"/>
<rect x="481.3" y="754.7" width="23.7" height="28.6" rx="2" fill="url(#pvC)"/>
<path d="M493,762.5 Q486.5,768.5 486.8,771.6 Q487.2,774.6 490.4,774.2 Q492,774 492.6,772.8 L491.6,776.2 H494.4 L493.4,772.8 Q494,774 495.6,774.2 Q498.8,774.6 499.2,771.6 Q499.5,768.5 493,762.5 Z" fill="#fff"/>
<text x="483.2" y="761.5" font-size="6" fill="#fff" font-weight="bold">A</text>
<circle cx="423.6" cy="827.8" r="17.5" fill="none" stroke="url(#pvS)" stroke-width="1.2"/>
<circle cx="423.6" cy="827.8" r="15" fill="url(#pvS)"/>
<g fill="#fff" opacity="0.9"><path d="M423.6,820.5 L430,825.2 L427.6,832.8 H419.6 L417.2,825.2 Z"/></g>
<g stroke="#fff" stroke-width="1.1" fill="none"><path d="M423.6,820.5 V813 M430,825.2 L437.2,822.6 M427.6,832.8 L432,839.4 M419.6,832.8 L415.2,839.4 M417.2,825.2 L410,822.6"/></g>
<path d="M476.0,857.1 L475.2,860.7 L470.8,861.0 L469.3,863.2 L470.8,867.4 L467.8,869.4 L464.4,866.4 L461.8,867.0 L459.9,871.0 L456.3,870.2 L456.0,865.8 L453.8,864.3 L449.6,865.8 L447.6,862.8 L450.6,859.4 L450.0,856.8 L446.0,854.9 L446.8,851.3 L451.2,851.0 L452.7,848.8 L451.2,844.6 L454.2,842.6 L457.6,845.6 L460.2,845.0 L462.1,841.0 L465.7,841.8 L466.0,846.2 L468.2,847.7 L472.4,846.2 L474.4,849.2 L471.4,852.6 L472.0,855.2 Z M465.2,856 A4.2,4.2 0 1 0 456.8,856 A4.2,4.2 0 1 0 465.2,856 Z" fill="url(#pvG)" fill-rule="evenodd"/>
<path d="M407.5,858 H436.5 Q439,858 439,860.5 V879.5 Q439,882 436.5,882 H407.5 Q405,882 405,879.5 V860.5 Q405,858 407.5,858 Z M408,864 V879 H436 V864 Z" fill="url(#pvK)" fill-rule="evenodd"/>
<rect x="411.5" y="854.6" width="3.2" height="6" rx="1.4" fill="url(#pvK)"/><rect x="429.3" y="854.6" width="3.2" height="6" rx="1.4" fill="url(#pvK)"/>
<path d="M414.5,871.5 L419.8,876.6 L430,866.6 L427.6,866 L419.6,872.6 L416.6,870.4 Z" fill="url(#pvK)"/>
<path d="M503,834.5 L509,834 L510,855 L506.4,854.6 Z" fill="url(#pvB)"/>
<rect x="509.6" y="833.6" width="35.4" height="22.6" fill="url(#pvB)"/>
<rect x="512.2" y="836.2" width="30.2" height="17.4" fill="none" stroke="#fff" stroke-width="1"/>
<ellipse cx="527.3" cy="845" rx="7" ry="6.6" fill="#fff"/>
<text x="527.3" y="849" font-size="11" font-weight="bold" text-anchor="middle" fill="url(#pvB)">$</text>
<circle cx="562.6" cy="846" r="13.4" fill="url(#pvP)"/>
<circle cx="562.6" cy="846" r="10.6" fill="none" stroke="#fff" stroke-width="2.6" stroke-dasharray="4.2 4.1"/>
<circle cx="562.6" cy="846" r="7.4" fill="none" stroke="#fff" stroke-width="0.9"/>
<text x="562.6" y="849.6" font-size="10" font-weight="bold" text-anchor="middle" fill="#fff">$</text>
<rect x="569" y="830" width="12" height="32" fill="#fff" opacity="0.55"/>
<path d="M499,863.6 Q514,863.8 514,876 Q514,884 505.5,888.6 Q501,891 497.5,891.6 Q498.4,889.8 497.8,888.8 Q484,887 484,876 Q484,863.8 499,863.6 Z" fill="url(#pvT)"/>
<circle cx="491.8" cy="876.4" r="2.2" fill="#fff"/><circle cx="499" cy="876.4" r="2.2" fill="#fff"/><circle cx="506.2" cy="876.4" r="2.2" fill="#fff"/>
<path d="M444.5,893.5 Q446,884.5 459.5,883.6 Q473,884.5 474.5,893.5 L476.4,895 V899.6 L473.6,901.6 Q470,908 459.5,908.6 Q449,908 445.4,901.6 L442.6,899.6 V895 Z" fill="url(#pvH)"/>
<path d="M449.6,895.4 Q459.5,890 469.4,895.4 Q469.4,903 459.5,904.4 Q449.6,903 449.6,895.4 Z" fill="#fff"/>
<path d="M452.6,898 Q459.5,903.6 466.4,898" stroke="url(#pvH)" stroke-width="1.3" fill="none"/>
<path d="M472,902 Q470,910.5 461,911.6" stroke="url(#pvH)" stroke-width="1.6" fill="none"/><ellipse cx="459.4" cy="911.8" rx="2.6" ry="1.8" fill="url(#pvH)"/>
</g>
<g transform="translate(436.6,773.6) rotate(36)">
<ellipse cx="-1.5" cy="4" rx="25" ry="21" fill="#ffe9a0" opacity="0.8" filter="url(#coinGlow)"/>
<g style="filter:blur(0.35px)">
<ellipse cx="0" cy="7.2" rx="23.8" ry="17.2" fill="url(#gCoinEdge)"/>
<rect x="-23.8" y="0" width="47.6" height="7.2" fill="url(#gCoinEdge)"/>
<ellipse cx="0" cy="0" rx="23.8" ry="17.2" fill="#ffe65e"/>
<ellipse cx="0.2" cy="0.5" rx="22.2" ry="15.8" fill="url(#gCoinFace)"/>
<ellipse cx="0.2" cy="0.6" rx="19" ry="13" fill="none" stroke="#e2a000" stroke-width="1" opacity="0.7"/>
<text x="0" y="9.4" font-size="27" font-weight="bold" text-anchor="middle" fill="#c48400" transform="rotate(-90) scale(0.92,1.18)">$</text>
<text x="-0.8" y="8.6" font-size="27" font-weight="bold" text-anchor="middle" fill="none" stroke="#ffe680" stroke-width="0.5" transform="rotate(-90) scale(0.92,1.18)" opacity="0.7">$</text>
</g></g>
<path d="M418.8,775 L420.2,778 L425.4,778.9 L420.2,779.8 L419.2,784.2 L418,779.8 L413,778.9 L417.8,778 Z" fill="#fff" opacity="0.95"/>
</svg>
</body></html>
